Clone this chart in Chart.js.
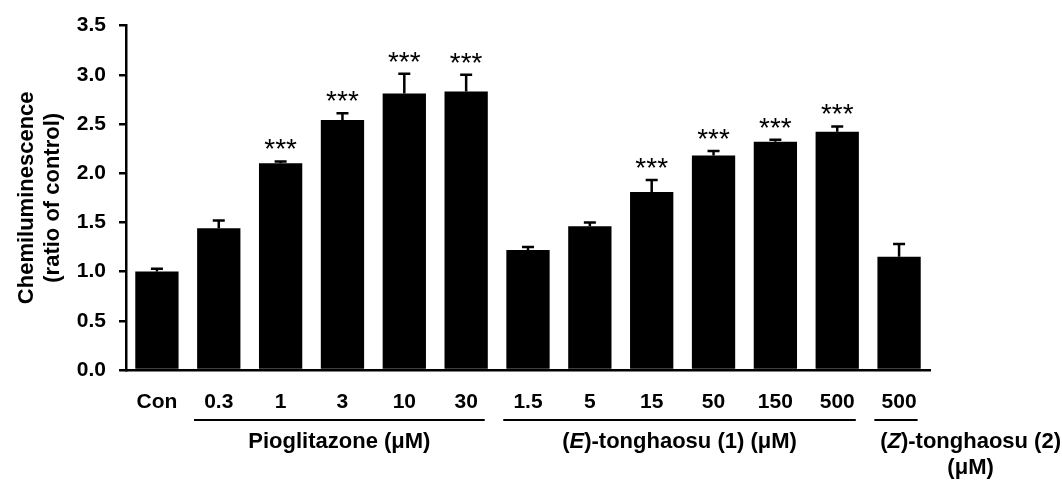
<!DOCTYPE html>
<html>
<head>
<meta charset="utf-8">
<script src="https://cdn.jsdelivr.net/npm/chart.js@4"></script>
<style>
  html, body { margin: 0; padding: 0; background: #fff; }
  #wrap { width: 1062px; height: 481px; position: relative; }
</style>
</head>
<body>
<div id="wrap"><canvas id="chart"></canvas></div>
<script>
const labels = ['Con', '0.3', '1', '3', '10', '30', '1.5', '5', '15', '50', '150', '500', '500'];
const means = [1.00, 1.44, 2.10, 2.54, 2.81, 2.83, 1.22, 1.46, 1.81, 2.18, 2.32, 2.42, 1.15];
const errors = [0.03, 0.08, 0.02, 0.07, 0.20, 0.17, 0.03, 0.04, 0.12, 0.045, 0.02, 0.055, 0.13];
const stars = ['', '', '***', '***', '***', '***', '', '', '***', '***', '***', '***', ''];
const groups = [
  { from: 1, to: 5, text: [[{ t: 'Pioglitazone (μM)' }]] },
  { from: 6, to: 11, text: [[{ t: '(' }, { t: 'E', i: true }, { t: ')-tonghaosu (1) (μM)' }]] },
  { from: 12, to: 12, text: [[{ t: '(' }, { t: 'Z', i: true }, { t: ')-tonghaosu (2)' }], [{ t: '(μM)' }]] }
];

const FONT = '"Liberation Sans", Arial, sans-serif';

function richWidth(ctx, parts, size) {
  let w = 0;
  parts.forEach(p => {
    ctx.font = (p.i ? 'italic ' : '') + 'bold ' + size + 'px ' + FONT;
    w += ctx.measureText(p.t).width;
  });
  return w;
}

function drawRich(ctx, parts, x, y, size) {
  let w = richWidth(ctx, parts, size);
  let cx = x - w / 2;
  ctx.textAlign = 'left';
  ctx.textBaseline = 'middle';
  parts.forEach(p => {
    ctx.font = (p.i ? 'italic ' : '') + 'bold ' + size + 'px ' + FONT;
    ctx.fillText(p.t, cx, y);
    cx += ctx.measureText(p.t).width;
  });
}

const extras = {
  id: 'extras',
  afterDatasetsDraw(chart) {
    const ctx = chart.ctx;
    const x = chart.scales.x, y = chart.scales.y;
    const step = x.getPixelForValue(1) - x.getPixelForValue(0);
    ctx.save();
    ctx.strokeStyle = '#000';
    ctx.fillStyle = '#000';
    // error bars (upper only) and significance marks
    means.forEach((m, i) => {
      const px = x.getPixelForValue(i);
      const top = y.getPixelForValue(m + errors[i]);
      ctx.lineWidth = 2.5;
      ctx.beginPath();
      ctx.moveTo(px, y.getPixelForValue(m));
      ctx.lineTo(px, top);
      ctx.moveTo(px - 6, top);
      ctx.lineTo(px + 6, top);
      ctx.stroke();
      if (stars[i]) {
        ctx.font = '28px ' + FONT;
        ctx.textAlign = 'center';
        ctx.textBaseline = 'alphabetic';
        ctx.fillText(stars[i], px, top - 3);
      }
    });
    // group underlines and names
    groups.forEach((g, gi) => {
      const left = x.getPixelForValue(g.from) - 0.4 * step;
      const right = x.getPixelForValue(g.to) + 0.3 * step;
      ctx.lineWidth = 2;
      ctx.beginPath();
      ctx.moveTo(left, 420);
      ctx.lineTo(right, 420);
      ctx.stroke();
      g.text.forEach((line, li) => {
        let cx = (left + right) / 2;
        if (gi === groups.length - 1) {
          const w = richWidth(ctx, g.text[0], 22);
          cx = chart.width - 1 - w / 2;
        }
        drawRich(ctx, line, cx, 442 + li * 26, 22);
      });
    });
    ctx.restore();
  }
};

new Chart(document.getElementById('chart'), {
  type: 'bar',
  data: {
    labels: labels,
    datasets: [{
      data: means,
      backgroundColor: '#000',
      borderWidth: 0,
      barPercentage: 0.7,
      categoryPercentage: 1.0
    }]
  },
  options: {
    responsive: true,
    maintainAspectRatio: false,
    animation: false,
    layout: { padding: { top: 23, right: 132, bottom: 0, left: 0 } },
    plugins: { legend: { display: false }, tooltip: { enabled: false } },
    scales: {
      x: {
        grid: { display: false, drawTicks: false },
        border: { display: true, color: '#000', width: 2.5 },
        ticks: { color: '#000', padding: 20, maxRotation: 0, autoSkip: false,
                 font: { family: FONT, size: 21, weight: 'bold' } },
        afterFit(scale) { scale.height = 111; }
      },
      y: {
        min: 0,
        max: 3.5,
        grid: { drawOnChartArea: false, drawTicks: true, tickLength: 7, color: '#000', lineWidth: 2.5 },
        border: { display: true, color: '#000', width: 2.5 },
        ticks: { stepSize: 0.5, color: '#000', padding: 13,
                 font: { family: FONT, size: 21, weight: 'bold' },
                 callback: v => v.toFixed(1) },
        title: {
          display: true,
          text: ['Chemiluminescence', '(ratio of control)'],
          color: '#000',
          padding: { top: 14, bottom: 0 },
          font: { family: FONT, size: 22, weight: 'bold', lineHeight: 1.18 }
        },
        afterFit(scale) { scale.width = 126; }
      }
    }
  },
  plugins: [extras]
});
</script>
</body>
</html>
